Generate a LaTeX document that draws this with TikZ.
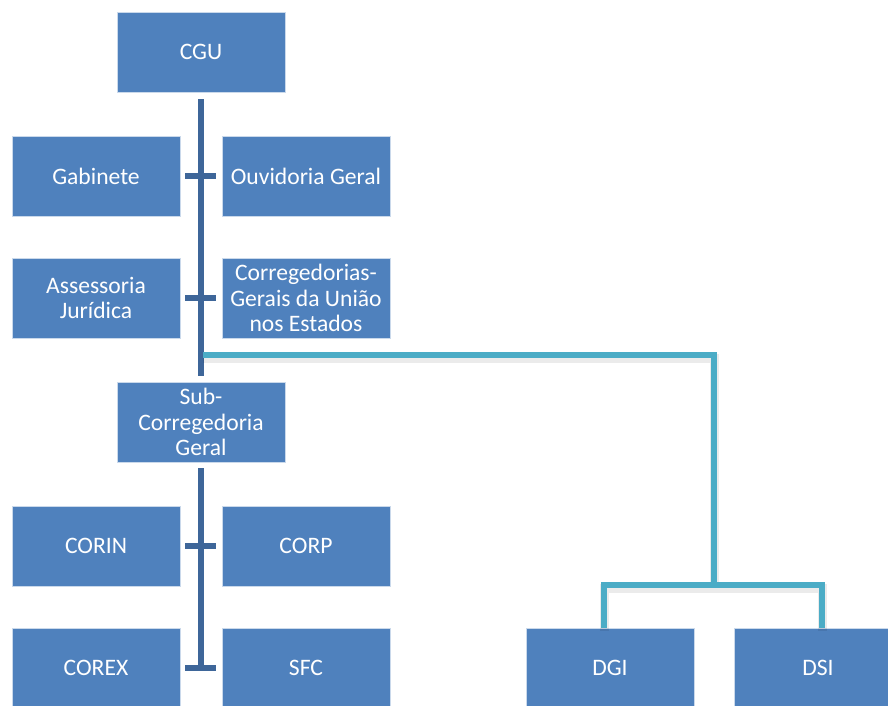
\documentclass[tikz,border=0pt]{standalone}
\usepackage{fontspec}
\setmainfont{Carlito}
\definecolor{boxblue}{HTML}{4F81BD}
\definecolor{darkline}{HTML}{3E6699}
\definecolor{tealline}{HTML}{4BACC6}
\begin{document}
\begin{tikzpicture}[x=1pt,y=-1pt,
  orgbox/.style={rectangle, fill=boxblue, draw=white!70!boxblue, line width=0.6pt,
    minimum width=168pt, minimum height=80pt, inner sep=0pt,
    text=white, align=center, font=\fontsize{23.6}{25.5}\selectfont},
  dline/.style={draw=darkline, line width=6pt},
  tline/.style={draw=tealline, line width=6pt},
  tshadow/.style={draw=black, opacity=0.08, line width=9pt}]
\useasboundingbox (0,0) rectangle (888,705);
\begin{scope}
\clip (0,0) rectangle (888,705);
\node[orgbox] (cgu) at (201,52) {CGU};
\node[orgbox] (gab) at (96,176) {Gabinete};
\node[orgbox] (ouv) at (306,176) {Ouvidoria Geral};
\node[orgbox] (ass) at (96,298) {Assessoria\\Jurídica};
\node[orgbox] (cor) at (306,298) {Corregedorias-\\Gerais da União\\nos Estados};
\node[orgbox] (sub) at (201,422) {Sub-\\Corregedoria\\Geral};
\node[orgbox] (corin) at (96,546) {CORIN};
\node[orgbox] (corp) at (306,546) {CORP};
\node[orgbox] (corex) at (96,668) {COREX};
\node[orgbox] (sfc) at (306,668) {SFC};
\node[orgbox] (dgi) at (610,668) {DGI};
\node[orgbox] (dsi) at (818,668) {DSI};

% dark connectors
\coordinate (lowend) at (201,669);
\draw[dline, shorten <=7pt, shorten >=6pt] (cgu.south) -- (sub.north);
\draw[dline, shorten <=5pt, shorten >=6pt] (gab.east) -- (ouv.west);
\draw[dline, shorten <=5pt, shorten >=6pt] (ass.east) -- (cor.west);
\draw[dline, shorten <=6pt] (sub.south) -- (lowend);
\draw[dline, shorten <=5pt, shorten >=6pt] (corin.east) -- (corp.west);
\draw[dline, shorten <=5pt, shorten >=6pt] (corex.east) -- (sfc.west);

% teal connectors
\coordinate (t0) at (203,355);
\coordinate (t1) at (714,355);
\coordinate (t2) at (714,585);
\coordinate (tl) at (604,585);
\coordinate (tr) at (822,585);
\coordinate (tlb) at (604,628);
\coordinate (trb) at (822,628);
\draw[tshadow, transform canvas={yshift=-3pt}] (t0) -- (t1) -- (t2);
\draw[tshadow, transform canvas={yshift=-3pt}] (tlb) -- (tl) -- (tr) -- (trb);
\draw[tline] (t0) -- (t1) -- (t2);
\draw[tline] (tlb) -- (tl) -- (tr) -- (trb);
\end{scope}
\end{tikzpicture}
\end{document}
